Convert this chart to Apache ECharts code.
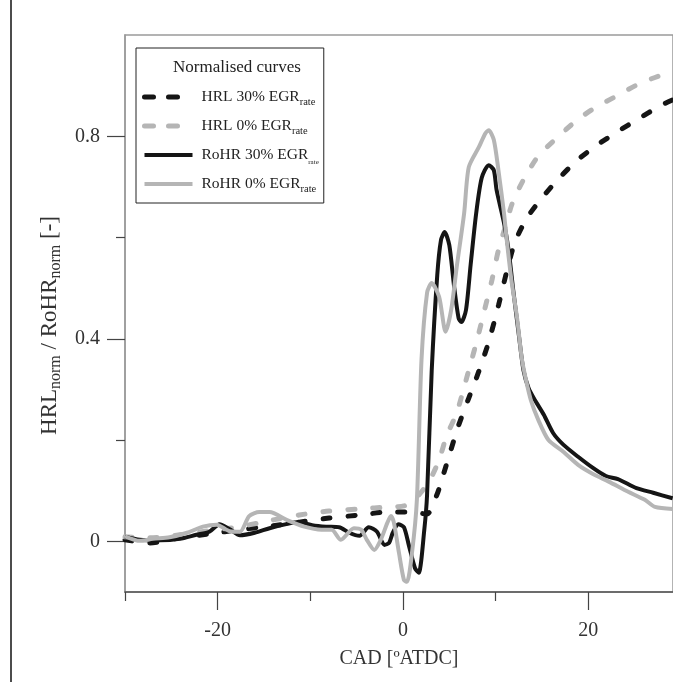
<!DOCTYPE html>
<html>
<head>
<meta charset="utf-8">
<title>Normalised curves</title>
<script src="https://cdn.jsdelivr.net/npm/echarts@6/dist/echarts.min.js"></script>
<style>
  html, body { margin: 0; padding: 0; background: #fff; }
  #main { width: 673px; height: 682px; }
</style>
</head>
<body>
<div id="main"></div>
<script>
// CAD [deg ATDC] and normalised values
var cadHrl30 = [-30, -27.31, -24.09, -20.86, -17.63, -14.41, -11.18, -7.96, -4.73, -1.51,
  0.65, 2.58, 3.66, 4.41, 5.16, 6.02, 7.10, 8.17, 9.25, 10.32,
  11.18, 12.04, 13.01, 13.76, 15.16, 16.99, 18.82, 20.97, 23.23, 25.38, 27.74, 29.1];
var hrl30 = [0.003, -0.003, 0.007, 0.015, 0.023, 0.030, 0.038, 0.046, 0.052, 0.058,
  0.058, 0.054, 0.092, 0.135, 0.180, 0.230, 0.283, 0.335, 0.394, 0.467,
  0.532, 0.589, 0.627, 0.649, 0.682, 0.720, 0.753, 0.783, 0.810, 0.834, 0.860, 0.872];

var cadHrl0 = [-30, -27.3, -24.1, -20.9, -17.6, -14.4, -11.2, -8.0, -4.7, -1.5,
  0.1, 1.2, 2.0, 2.9, 3.9, 4.7, 5.8, 7.1, 8.0, 8.8,
  9.6, 10.3, 11.1, 11.8, 13.0, 14.6, 16.5, 18.4, 20.5, 22.9, 25.2, 27.6, 29.1];
var hrl0 = [0.009, 0.007, 0.013, 0.021, 0.029, 0.041, 0.052, 0.060, 0.064, 0.068,
  0.070, 0.082, 0.098, 0.121, 0.161, 0.208, 0.254, 0.338, 0.398, 0.457,
  0.516, 0.575, 0.625, 0.668, 0.714, 0.761, 0.795, 0.826, 0.854, 0.878, 0.901, 0.919, 0.926];

var cadRohr30 = [-30, -28.4, -26.2, -24.1, -22.3, -20.9, -19.8, -18.7, -17.6, -16.0,
  -14.4, -12.6, -11.2, -9.8, -8.3, -6.9, -5.8, -4.7, -3.7, -2.8,
  -2.0, -1.5, -1.1, -0.5, 0.1, 0.65, 1.3, 1.7, 2.3, 2.6,
  3.1, 3.7, 4.1, 4.5, 5.0, 5.5, 6.0, 6.3, 6.8, 7.3,
  7.9, 8.5, 9.25, 9.8, 10.1, 10.9, 11.4, 11.9, 12.5, 13.0,
  13.55, 14.3, 15.2, 16.2, 17.3, 18.9, 20.5, 21.9, 23.2, 25.2, 27.0, 29.1];
var rohr30 = [0.009, 0.003, 0.002, 0.005, 0.013, 0.019, 0.034, 0.024, 0.012, 0.017,
  0.026, 0.034, 0.038, 0.032, 0.029, 0.028, 0.017, 0.011, 0.028, 0.019,
  -0.007, -0.003, 0.017, 0.034, 0.028, -0.009, -0.053, -0.062, 0.023, 0.092,
  0.337, 0.526, 0.595, 0.611, 0.585, 0.506, 0.441, 0.433, 0.457, 0.546,
  0.648, 0.718, 0.743, 0.733, 0.694, 0.629, 0.575, 0.496, 0.408, 0.338,
  0.303, 0.277, 0.250, 0.214, 0.191, 0.167, 0.145, 0.129, 0.123, 0.105, 0.096, 0.085];

var cadRohr0 = [-30, -28.4, -27.0, -25.2, -23.3, -21.6, -20.1, -18.7, -17.6, -16.6,
  -15.5, -14.4, -12.5, -10.65, -8.8, -7.7, -6.7, -5.3, -4.5, -3.9,
  -3.1, -2.4, -1.7, -1.3, -0.97, -0.43, 0.1, 0.43, 0.97, 1.5,
  2.0, 2.6, 3.1, 3.9, 4.6, 5.2, 5.8, 6.6, 7.1, 8.2,
  8.9, 9.25, 9.8, 10.3, 10.9, 11.2, 11.7, 12.3, 12.8, 13.2,
  13.8, 14.6, 15.7, 17.3, 18.9, 20.5, 22.2, 24.3, 26.1, 27.2, 29.1];
var rohr0 = [0.010, 0.001, 0.005, 0.008, 0.017, 0.029, 0.033, 0.020, 0.019, 0.050,
  0.058, 0.058, 0.042, 0.029, 0.023, 0.023, 0.003, 0.026, 0.023, 0.003,
  -0.017, 0.003, 0.036, 0.050, 0.036, -0.023, -0.076, -0.080, -0.023, 0.082,
  0.359, 0.491, 0.510, 0.483, 0.414, 0.457, 0.542, 0.648, 0.739, 0.779,
  0.806, 0.812, 0.793, 0.733, 0.648, 0.595, 0.516, 0.443, 0.364, 0.325,
  0.279, 0.240, 0.200, 0.177, 0.151, 0.133, 0.118, 0.098, 0.082, 0.068, 0.064];

var seriesNames = ['HRL 30% EGR', 'HRL 0% EGR', 'RoHR 30% EGR', 'RoHR 0% EGR'];
var xMajorTicks = [-20, 0, 20];
var xMinorTicks = [-30, -10, 10];
var yMajorTicks = [0, 0.4, 0.8];
var yMinorTicks = [0.2, 0.6];

var serif = 'Liberation Serif';
var black = '#151515';
var grey = '#b5b5b5';

function zip(xs, ys) {
  var out = [];
  for (var i = 0; i < xs.length; i++) {
    out.push([xs[i], ys[i]]);
  }
  return out;
}

function lineStyleFor(color, dashed, dash) {
  return dashed
    ? {color: color, width: 5, type: dash, cap: 'round'}
    : {color: color, width: 4};
}

function makeLine(name, xs, ys, color, dashed) {
  return {
    name: name,
    type: 'line',
    data: zip(xs, ys),
    symbol: 'none',
    showSymbol: false,
    smooth: 0.25,
    xAxisIndex: 0,
    yAxisIndex: 0,
    lineStyle: lineStyleFor(color, dashed, [7, 18]),
    itemStyle: {color: color}
  };
}

var myChart = echarts.init(document.getElementById('main'), null, {renderer: 'canvas'});

var option = {
  animation: false,
  backgroundColor: '#fff',
  textStyle: {fontFamily: serif},
  grid: {
    left: 125,
    top: 35,
    right: -2,
    bottom: 90,
    show: true,
    borderColor: '#9a9a9a',
    borderWidth: 1.5
  },
  title: {
    text: 'Normalised curves',
    left: 173,
    top: 59,
    padding: 0,
    textStyle: {fontFamily: serif, fontSize: 17, fontWeight: 'normal', color: '#222'}
  },
  legend: {
    orient: 'vertical',
    left: 136,
    top: 48,
    padding: [41, 5, 8, 6],
    itemWidth: 48,
    itemHeight: 14,
    itemGap: 10,
    borderColor: '#222',
    borderWidth: 1,
    itemStyle: {opacity: 0},
    data: [
      {name: seriesNames[0], lineStyle: lineStyleFor(black, true, [9, 15])},
      {name: seriesNames[1], lineStyle: lineStyleFor(grey, true, [9, 15])},
      {name: seriesNames[2], lineStyle: lineStyleFor(black, false)},
      {name: seriesNames[3], lineStyle: lineStyleFor(grey, false)}
    ],
    formatter: function (name) {
      var sub = name === 'RoHR 30% EGR' ? 't' : 's';
      return '{m|' + name + '}{' + sub + '|rate}';
    },
    textStyle: {
      color: '#222',
      padding: [0, 0, 0, 4],
      rich: {
        m: {fontFamily: serif, fontSize: 15.5, lineHeight: 22, color: '#222'},
        s: {fontFamily: serif, fontSize: 10.5, verticalAlign: 'bottom', color: '#222'},
        t: {fontFamily: serif, fontSize: 7, verticalAlign: 'bottom', color: '#222'}
      }
    }
  },
  xAxis: [
    {
      type: 'value',
      min: -30,
      max: 29.14,
      position: 'bottom',
      name: 'CAD [ºATDC]',
      nameLocation: 'middle',
      nameGap: 57,
      nameTextStyle: {fontFamily: serif, fontSize: 20, color: '#333'},
      axisLine: {show: true, onZero: false, lineStyle: {color: '#555', width: 1.5}},
      axisTick: {show: true, inside: false, length: 18, customValues: xMajorTicks,
        lineStyle: {color: '#444', width: 1.2}},
      axisLabel: {show: true, customValues: xMajorTicks, margin: 29,
        fontFamily: serif, fontSize: 20, color: '#333'},
      splitLine: {show: false}
    },
    {
      type: 'value',
      min: -30,
      max: 29.14,
      position: 'bottom',
      axisLine: {show: false, onZero: false},
      axisTick: {show: true, inside: false, length: 9, customValues: xMinorTicks,
        lineStyle: {color: '#444', width: 1.2}},
      axisLabel: {show: false},
      splitLine: {show: false}
    }
  ],
  yAxis: [
    {
      type: 'value',
      min: -0.1,
      max: 1.0,
      position: 'left',
      name: '{m|HRL}{s|norm}{m| / RoHR}{s|norm}{m| [-]}',
      nameLocation: 'middle',
      nameRotate: 90,
      nameGap: 56,
      nameTextStyle: {
        color: '#333',
        padding: [0, 24, 0, 0],
        rich: {
          m: {fontFamily: serif, fontSize: 23, lineHeight: 29, color: '#333'},
          s: {fontFamily: serif, fontSize: 16, verticalAlign: 'bottom', color: '#333'}
        }
      },
      axisLine: {show: true, onZero: false, lineStyle: {color: '#9a9a9a', width: 1.5}},
      axisTick: {show: true, inside: false, length: 18, customValues: yMajorTicks,
        lineStyle: {color: '#444', width: 1.2}},
      axisLabel: {show: true, customValues: yMajorTicks, margin: 25,
        fontFamily: serif, fontSize: 20, color: '#333'},
      splitLine: {show: false}
    },
    {
      type: 'value',
      min: -0.1,
      max: 1.0,
      position: 'left',
      axisLine: {show: false, onZero: false},
      axisTick: {show: true, inside: false, length: 9, customValues: yMinorTicks,
        lineStyle: {color: '#444', width: 1.2}},
      axisLabel: {show: false},
      splitLine: {show: false}
    }
  ],
  graphic: [
    {
      type: 'line',
      shape: {x1: 11, y1: 0, x2: 11, y2: 682},
      style: {stroke: '#111', lineWidth: 1.5}
    }
  ],
  series: [
    makeLine(seriesNames[0], cadHrl30, hrl30, black, true),
    makeLine(seriesNames[1], cadHrl0, hrl0, grey, true),
    makeLine(seriesNames[2], cadRohr30, rohr30, black, false),
    makeLine(seriesNames[3], cadRohr0, rohr0, grey, false)
  ]
};

myChart.setOption(option);

window.onresize = function () {
  if (myChart) {
    myChart.resize();
  }
};
</script>
</body>
</html>
